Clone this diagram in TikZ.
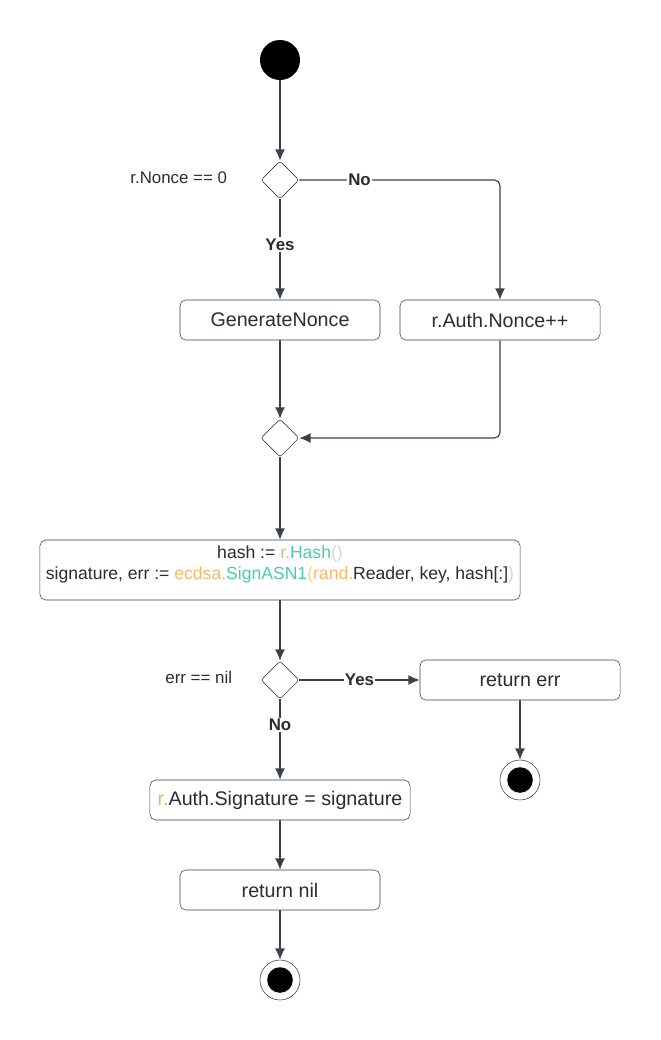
\documentclass[tikz,border=0pt]{standalone}
\usepackage{fontspec}
\setmainfont{Liberation Sans}
\usetikzlibrary{shapes.geometric, arrows.meta}
\definecolor{linegray}{HTML}{3A414A}
\definecolor{textgray}{HTML}{282C33}
\definecolor{khaki}{HTML}{D7BA7D}
\definecolor{teal}{HTML}{4EC9B0}
\definecolor{orangecode}{HTML}{F8B86A}
\definecolor{bracket}{HTML}{D4D4D4}
\definecolor{bracketyel}{HTML}{F5D98A}
\begin{document}
\begin{tikzpicture}[x=0.025cm, y=-0.025cm, >={Latex[length=8pt,width=7pt]},
    every node/.style={text=textgray},
    action/.style={rectangle, draw=linegray, rounded corners=4pt, minimum height=1cm,
      font=\fontsize{14}{17}\selectfont},
    decision/.style={diamond, draw=linegray, rounded corners=2pt, minimum width=0.95cm,
      minimum height=0.95cm, inner sep=0pt},
    initial/.style={circle, fill=black, minimum size=1cm, inner sep=0pt},
    final/.style={circle, draw=linegray, fill=white, minimum size=1cm, inner sep=0pt,
      path picture={\fill[black] (path picture bounding box.center) circle (0.32cm);}},
    guard/.style={fill=white, inner sep=1pt, font=\fontsize{12}{14}\selectfont\bfseries},
    cond/.style={anchor=east, font=\fontsize{12}{14}\selectfont},
    flow/.style={thick, draw=linegray}]
   \useasboundingbox (0,0) rectangle (660,1040);
   \node[initial] (start) at (280,60) {};
   \node[decision] (D1) at (280,180) {};
   \node[cond] (C1) at (232,178) {r.Nonce == 0};
   \node[action, minimum width=5cm] (gen) at (280,320) {GenerateNonce};
   \node[action, minimum width=5cm] (inc) at (500,320) {r.Auth.Nonce++};
   \node[decision] (D2) at (280,438) {};
   \node[action, minimum width=12cm, minimum height=1.5cm, align=center,
     font=\fontsize{12.5}{15}\selectfont] (sign) at (280,570)
     {hash := \textcolor{khaki}{r.}\textcolor{teal}{Hash}\textcolor{bracket}{()}\\
      signature, err := \textcolor{orangecode}{ecdsa.}\textcolor{teal}{SignASN1}\textcolor{bracketyel}{(}\textcolor{orangecode}{rand.}Reader, key, hash[:]\textcolor{bracket}{)}\\[-5pt]};
   \node[decision] (D3) at (280,680) {};
   \node[cond] (C3) at (237,677) {err == nil};
   \node[action, minimum width=5cm] (reterr) at (520,680) {return err};
   \node[final] (end1) at (520,780) {};
   \node[action, minimum width=6.5cm] (setsig) at (280,800)
     {\textcolor{khaki}{r.}Auth.Signature = signature};
   \node[action, minimum width=5cm] (retnil) at (280,890) {return nil};
   \node[final] (end2) at (280,980) {};
   \coordinate (noCorner) at (500,180);
   \coordinate (incCorner) at (500,438);
   \draw[flow, ->] (start) to (D1);
   \draw[flow, ->] (D1) to node[guard, pos=0.45] {Yes} (gen);
   \draw[flow, rounded corners=4pt, ->] (D1.east) -- node[guard, pos=0.3] {No} (noCorner) -- (inc.north);
   \draw[flow, ->] (gen) to (D2);
   \draw[flow, rounded corners=4pt, ->] (inc.south) -- (incCorner) -- (D2.east);
   \draw[flow, ->] (D2) to (sign);
   \draw[flow, ->] (sign) to (D3);
   \draw[flow, ->] (D3) to node[guard, pos=0.5] {Yes} (reterr);
   \draw[flow, ->] (reterr) to (end1);
   \draw[flow, ->] (D3) to node[guard, pos=0.32] {No} (setsig);
   \draw[flow, ->] (setsig) to (retnil);
   \draw[flow, ->] (retnil) to (end2);
\end{tikzpicture}
\end{document}
